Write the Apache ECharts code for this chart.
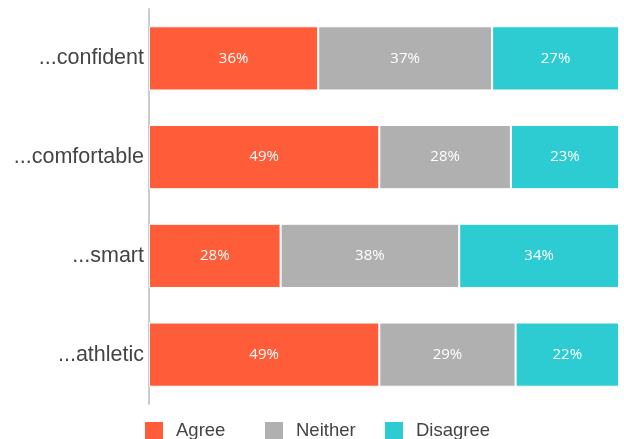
<!DOCTYPE html>
<html>
<head>
<meta charset="utf-8">
<script src="https://cdn.jsdelivr.net/npm/echarts@6/dist/echarts.min.js"></script>
<style>
  html, body { margin: 0; padding: 0; background: #fff; }
  #chart { width: 624px; height: 439px; }
</style>
</head>
<body>
<div id="chart"></div>
<script>
// Survey statements, top to bottom
const categories = ['...confident', '...comfortable', '...smart', '...athletic'];
// Share of responses (%) per answer
const agree = [36, 49, 28, 49];
const neither = [37, 28, 38, 29];
const disagree = [27, 23, 34, 22];

const seriesNames = ['Agree', 'Neither', 'Disagree'];
const seriesColors = ['#FF5C39', '#B0B0B0', '#2DCCD3'];
const seriesData = [agree, neither, disagree];

const chart = echarts.init(document.getElementById('chart'));

// One legend entry per component so the entries sit on an even 120px pitch
const legends = seriesNames.map((name, i) => ({
  top: 420,
  left: 143 + 120 * i,
  padding: 0,
  itemWidth: 20,
  itemHeight: 20,
  icon: 'rect',
  textStyle: {
    color: '#444444',
    fontSize: 18.5,
    fontFamily: 'Liberation Sans, Arial, sans-serif',
    padding: [0, 0, 0, 7]
  },
  data: [name]
}));

chart.setOption({
  animation: false,
  grid: { left: 149, right: 5, top: 9, height: 395, containLabel: false },
  xAxis: {
    type: 'value',
    min: 0,
    max: 100,
    show: false
  },
  yAxis: {
    type: 'category',
    data: categories,
    inverse: true,
    axisLine: { show: true, lineStyle: { color: '#cccccc', width: 2 } },
    axisTick: { show: false },
    axisLabel: {
      color: '#444444',
      fontSize: 21.5,
      fontFamily: 'Liberation Sans, Arial, sans-serif',
      margin: 5
    }
  },
  legend: legends,
  series: seriesNames.map((name, i) => ({
    name: name,
    type: 'bar',
    stack: 'total',
    barCategoryGap: '35%',
    data: seriesData[i],
    itemStyle: { color: seriesColors[i], borderColor: '#ffffff', borderWidth: 1 },
    label: {
      show: true,
      position: 'inside',
      color: '#ffffff',
      fontSize: 15,
      fontFamily: 'Open Sans, sans-serif',
      formatter: p => p.value + '%'
    }
  }))
});
</script>
</body>
</html>
